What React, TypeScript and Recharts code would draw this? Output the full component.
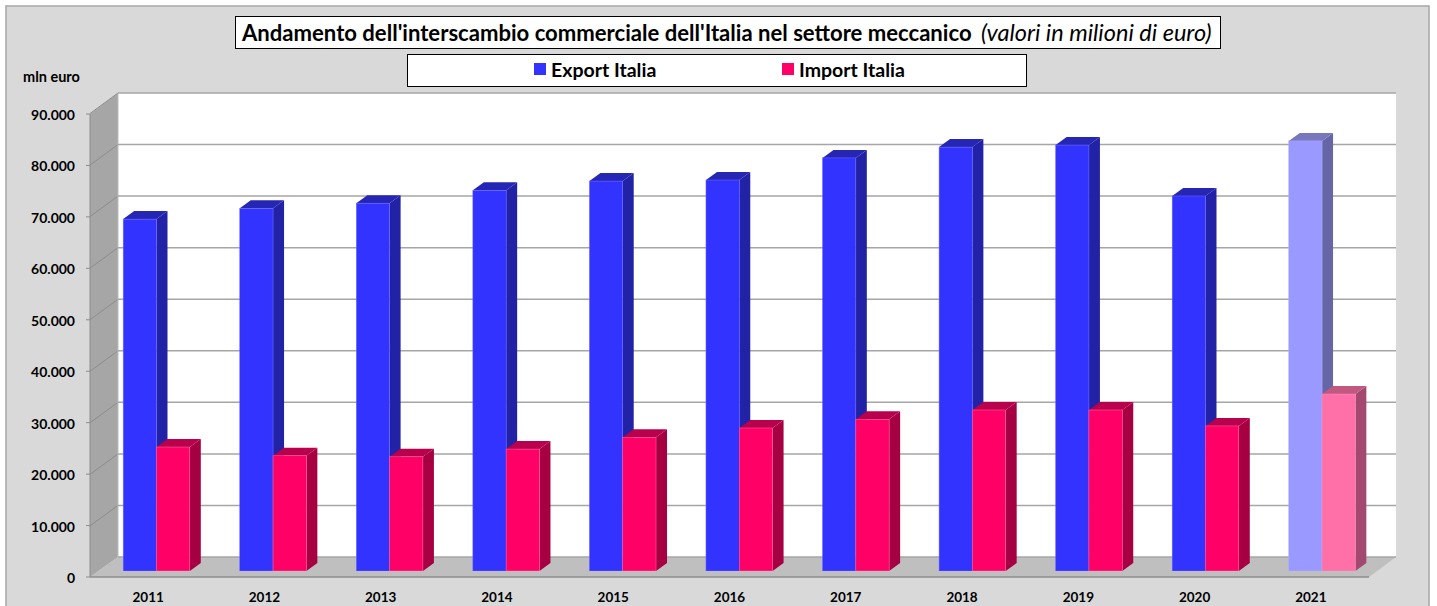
import React from 'react';
import { BarChart, Bar, XAxis, YAxis, CartesianGrid, Legend } from 'recharts';

const years = ['2011', '2012', '2013', '2014', '2015', '2016', '2017', '2018', '2019', '2020', '2021'];
const exportItalia = [68400, 70500, 71500, 74000, 75800, 76000, 80300, 82400, 82800, 72900, 83600];
const importItalia = [24100, 22400, 22200, 23700, 26000, 27800, 29500, 31300, 31300, 28200, 34400];
const valueTicks = [0, 10000, 20000, 30000, 40000, 50000, 60000, 70000, 80000, 90000];
const provisionalYear = '2021';

const rows = years.map((year, i) => ({ year, exportItalia: exportItalia[i], importItalia: importItalia[i] }));

const FONT = 'Lato, sans-serif';
const fmt = (v: number) => String(v).replace(/\B(?=(\d{3})+$)/g, '.');

const palettes: Record<string, { front: string; side: string; top: string; edge: string }> = {
  '#3333ff': { front: '#3333ff', side: '#2222a6', top: '#2626b4', edge: '#6a6aff' },
  '#ff0066': { front: '#ff0066', side: '#a60042', top: '#b8004c', edge: '#ff6aa6' },
  '#3333ff-p': { front: '#9999ff', side: '#6666a6', top: '#7777bb', edge: '#b0b0ff' },
  '#ff0066-p': { front: '#ff6fa8', side: '#a3486e', top: '#c05880', edge: '#ff90bc' },
};

function Bar3D(props: any) {
  const { x, y, width, height, fill, payload } = props;
  const p = palettes[payload.year === provisionalYear ? `${fill}-p` : fill];
  const dx = 11;
  const dy = -8;
  return (
    <g>
      <polygon points={`${x + width},${y} ${x + width + dx},${y + dy} ${x + width + dx},${y + height + dy} ${x + width},${y + height}`} fill={p.side} />
      <polygon points={`${x},${y} ${x + dx},${y + dy} ${x + width + dx},${y + dy} ${x + width},${y}`} fill={p.top} />
      <rect x={x} y={y} width={width} height={height} fill={p.front} stroke={p.edge} strokeWidth={0.5} />
    </g>
  );
}

function horizontalLine(props: any) {
  const { x1, x2, y1, y2, key, index } = props;
  return <line key={key ?? index} x1={x1 + 28} x2={x2 + 15} y1={y1} y2={y2} stroke="#a6a6a6" strokeWidth={1.5} />;
}

function Scenery() {
  const wallLines = [93, 144.6, 196.1, 247.7, 299.2, 350.8, 402.3, 453.9, 505.4];
  return (
    <svg width={1437} height={606} style={{ position: 'absolute', left: 0, top: 0 }}>
      <rect x={6} y={6} width={1423} height={610} fill="#d9d9d9" stroke="#a6a6a6" strokeWidth={1.5} />
      <rect x={118} y={93} width={1278} height={464} fill="#ffffff" />
      <polygon points="90,114 118,93 118,557 90,577" fill="#a6a6a6" />
      <polygon points="90,577 118,557 1396,557 1369,577" fill="#bfbfbf" />
      {wallLines.map((y) => (
        <line key={y} x1={90} y1={y + 20.5} x2={118} y2={y} stroke="#8c8c8c" strokeWidth={1} />
      ))}
      <line x1={118} y1={93} x2={118} y2={557} stroke="#bdbdbd" strokeWidth={1} />
      <line x1={90} y1={114} x2={90} y2={577} stroke="#8c8c8c" strokeWidth={1} />
      <line x1={90} y1={577} x2={1369} y2={577} stroke="#8c8c8c" strokeWidth={1.5} />
    </svg>
  );
}

function Captions() {
  return (
    <g fontFamily={FONT}>
      <rect x={235.5} y={16.5} width={985} height={32} fill="#ffffff" stroke="#000000" strokeWidth={1} />
      <text x={242} y={41} fontSize={22.1} fontWeight={700} fill="#000">
        Andamento dell'interscambio commerciale dell'Italia nel settore meccanico
      </text>
      <text x={981} y={41} fontSize={23.5} fontStyle="italic" fill="#000">
        (valori in milioni di euro)
      </text>
      <text x={23} y={82} fontSize={14.5} fontWeight={700} fill="#000">
        mln euro
      </text>
    </g>
  );
}

function LegendBox({ payload }: any) {
  const lefts = [126, 374];
  return (
    <div style={{ position: 'relative', width: 620, height: 33, boxSizing: 'border-box', background: '#fff', border: '1px solid #000', fontFamily: FONT, fontWeight: 700, fontSize: 19.5, color: '#000' }}>
      {(payload || []).map((entry: any, i: number) => (
        <div key={entry.value} style={{ position: 'absolute', left: lefts[i], top: -1, height: 30, display: 'flex', alignItems: 'center', whiteSpace: 'nowrap' }}>
          <span style={{ display: 'inline-block', width: 12, height: 12, background: entry.color, marginRight: 5 }} />
          {entry.value}
        </div>
      ))}
    </div>
  );
}

export default function App() {
  const tick = { fill: '#000', fontFamily: FONT, fontWeight: 700, fontSize: 14 };
  return (
    <div style={{ position: 'absolute', left: 0, top: 0, width: 1437, height: 606, overflow: 'hidden', background: '#fff' }}>
      <Scenery />
      <div style={{ position: 'absolute', left: 0, top: 0 }}>
        <BarChart
          width={1437}
          height={606}
          data={rows}
          barSize={33.3}
          barGap={0}
          margin={{ top: 93, right: 56, bottom: 0, left: 0 }}
        >
          <Captions />
          <CartesianGrid xAxisId="bars" yAxisId="back" vertical={false} horizontal={horizontalLine as any} syncWithTicks />
          <XAxis
            xAxisId="front"
            dataKey="year"
            height={29}
            padding={{ left: 0, right: 12 }}
            tickLine={false}
            tickMargin={9}
            axisLine={false}
            tick={{ ...tick, fontSize: 13.5 }}
          />
          <XAxis xAxisId="bars" dataKey="year" hide height={0} padding={{ left: 8.2, right: 0.7 }} />
          <YAxis
            yAxisId="front"
            width={90}
            domain={[0, 90000]}
            allowDataOverflow
            ticks={valueTicks}
            padding={{ top: 21, bottom: 0 }}
            tickFormatter={fmt}
            tickSize={4}
            tickMargin={11}
            tickLine={{ stroke: '#8c8c8c' }}
            axisLine={false}
            tick={{ ...tick, dy: 1 }}
            interval={0}
          />
          <YAxis yAxisId="bars" hide width={0} domain={[0, 90000]} allowDataOverflow ticks={valueTicks} padding={{ top: 15, bottom: 6 }} />
          <YAxis yAxisId="back" hide width={0} interval={0} domain={[0, 90000]} allowDataOverflow ticks={valueTicks} padding={{ top: 0, bottom: 20 }} />
          <Legend
            verticalAlign="middle"
            align="center"
            layout="horizontal"
            wrapperStyle={{ position: 'absolute', left: 407, top: 54, width: 620, bottom: 'auto', right: 'auto' }}
            content={<LegendBox />}
          />
          <Bar name="Export Italia" dataKey="exportItalia" xAxisId="bars" yAxisId="bars" fill="#3333ff" shape={<Bar3D />} isAnimationActive={false} />
          <Bar name="Import Italia" dataKey="importItalia" xAxisId="bars" yAxisId="bars" fill="#ff0066" shape={<Bar3D />} isAnimationActive={false} />
        </BarChart>
      </div>
    </div>
  );
}
